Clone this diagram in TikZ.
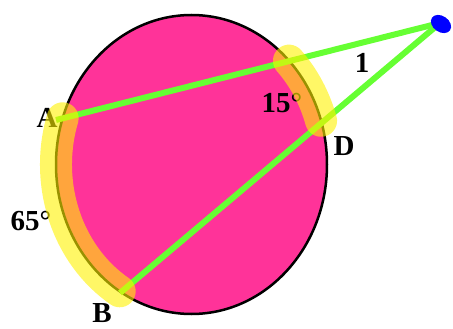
\documentclass[tikz,border=0pt]{standalone}
\usepackage{fontspec}
\setmainfont{Liberation Serif}
\usetikzlibrary{shapes.geometric}
\definecolor{hotpink}{RGB}{255,51,153}
\definecolor{limeg}{RGB}{102,255,51}
\tikzset{
  lbl/.style={inner sep=0pt, font=\bfseries\fontsize{29}{29}\selectfont, text=black},
  greenline/.style={draw=limeg, line width=6pt},
  hilite/.style={draw=yellow, draw opacity=0.6, line width=32pt, line cap=round},
}
\begin{document}
\begin{tikzpicture}[x=1pt,y=-1pt]
\useasboundingbox (0,0) rectangle (453,329);
\draw[fill=hotpink, draw=black, line width=2.5pt] (191.5,164.5) ellipse [x radius=135.5, y radius=149.5];
\coordinate (P) at (440,23);
\coordinate (A) at (56,120);
\coordinate (B) at (120,293);
\draw[greenline] (P) -- (A);
\draw[greenline] (P) -- (B);
\node[lbl] (lA) at (47,118) {A};
\node[lbl] (lB) at (102,313) {B};
\node[lbl] (lD) at (344,146) {D};
\node[lbl] (l65) at (31,221) {65°};
\node[lbl] (l15) at (282,103) {15°};
\node[lbl] (l1) at (362,63) {1};
\draw[hilite] ({191.5+135.5*cos(198)},{164.5+149.5*sin(198)}) arc[start angle=198, end angle=122, x radius=135.5, y radius=149.5];
\draw[hilite] ({191.5+135.5*cos(316)},{164.5+149.5*sin(316)}) arc[start angle=316, end angle=343, x radius=135.5, y radius=149.5];
\node[fill=blue, ellipse, minimum width=22pt, minimum height=16pt, inner sep=0pt, rotate=-35] (dot) at (441,24) {};
\end{tikzpicture}
\end{document}
